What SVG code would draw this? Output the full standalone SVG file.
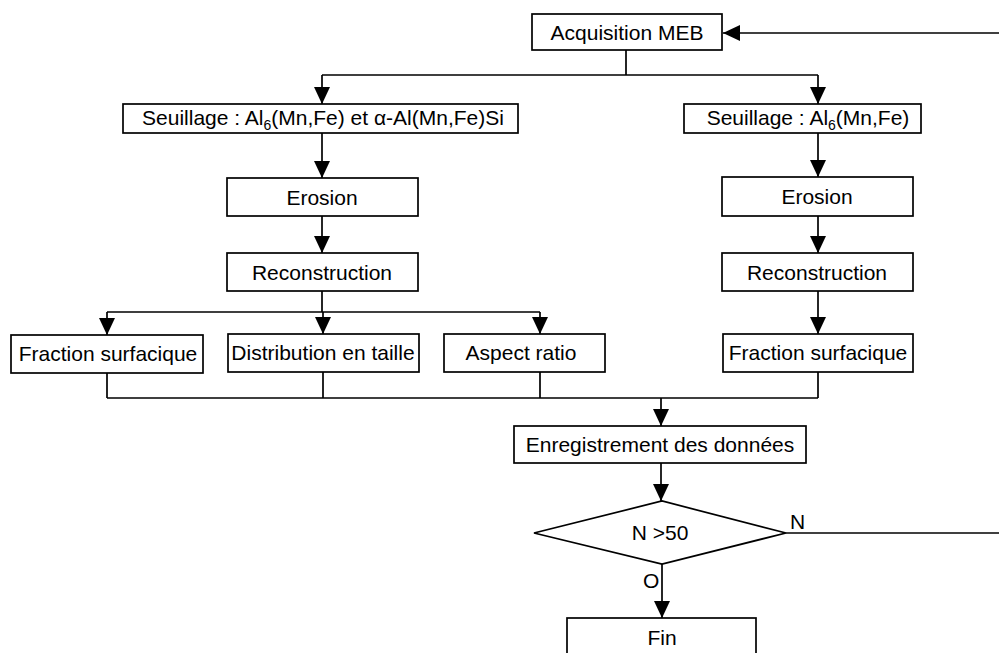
<svg xmlns="http://www.w3.org/2000/svg" width="999" height="653" viewBox="0 0 999 653">
<style>
.box{fill:#fff;stroke:#000;stroke-width:1.7}
.t{font-family:"Liberation Sans",Arial,sans-serif;font-size:21px;fill:#000;text-anchor:middle}
.l{font-family:"Liberation Sans",Arial,sans-serif;font-size:21px;fill:#000}
.c{fill:none;stroke:#000;stroke-width:1.7}
</style>
<defs>
<marker id="ah" markerUnits="userSpaceOnUse" markerWidth="17" markerHeight="16" refX="17" refY="8" orient="auto">
<path d="M0,0 L17,8 L0,16 z" fill="#000"/>
</marker>
</defs>
<rect width="999" height="653" fill="#fff"/>
<g id="connectors">
<path class="c" d="M999,33 H723" marker-end="url(#ah)"/>
<path class="c" d="M626,50 V75 M322,75 H818"/>
<path class="c" d="M322,75 V104" marker-end="url(#ah)"/>
<path class="c" d="M818,75 V104" marker-end="url(#ah)"/>
<path class="c" d="M322,133 V178" marker-end="url(#ah)"/>
<path class="c" d="M322,216 V253" marker-end="url(#ah)"/>
<path class="c" d="M322,291 V312 M107,312 H540"/>
<path class="c" d="M107,312 V335" marker-end="url(#ah)"/>
<path class="c" d="M323,312 V334" marker-end="url(#ah)"/>
<path class="c" d="M540,312 V334" marker-end="url(#ah)"/>
<path class="c" d="M818,133 V177" marker-end="url(#ah)"/>
<path class="c" d="M818,216 V253" marker-end="url(#ah)"/>
<path class="c" d="M818,291 V334" marker-end="url(#ah)"/>
<path class="c" d="M107,373 V398 M323,372 V398 M540,372 V398 M818,372 V398 M107,398 H818"/>
<path class="c" d="M661,398 V426" marker-end="url(#ah)"/>
<path class="c" d="M661,463 V501" marker-end="url(#ah)"/>
<path class="c" d="M662,564 V618" marker-end="url(#ah)"/>
<path class="c" d="M786,533 H999"/>
<text class="l" x="790" y="529">N</text>
<text class="l" x="643" y="588">O</text>
</g>
<g id="acq"><rect class="box" x="532" y="14" width="190" height="36"/><text class="t" x="627" y="40">Acquisition MEB</text></g>
<g id="seuilL"><rect class="box" x="123" y="104" width="395" height="29"/><text class="t" x="323" y="125">Seuillage : Al<tspan font-size="14" dy="5">6</tspan><tspan dy="-5">(Mn,Fe) et α-Al(Mn,Fe)Si</tspan></text></g>
<g id="seuilR"><rect class="box" x="684" y="104" width="237" height="29"/><text class="t" x="808" y="125">Seuillage : Al<tspan font-size="14" dy="5">6</tspan><tspan dy="-5">(Mn,Fe)</tspan></text></g>
<g id="erosionL"><rect class="box" x="227" y="178" width="191" height="38"/><text class="t" x="322" y="205">Erosion</text></g>
<g id="reconL"><rect class="box" x="227" y="253" width="191" height="38"/><text class="t" x="322" y="280">Reconstruction</text></g>
<g id="erosionR"><rect class="box" x="722" y="177" width="191" height="39"/><text class="t" x="817" y="204">Erosion</text></g>
<g id="reconR"><rect class="box" x="722" y="253" width="191" height="38"/><text class="t" x="817" y="280">Reconstruction</text></g>
<g id="fracL"><rect class="box" x="11" y="335" width="192" height="38"/><text class="t" x="108" y="361">Fraction surfacique</text></g>
<g id="dist"><rect class="box" x="228" y="334" width="191" height="38"/><text class="t" x="323" y="360">Distribution en taille</text></g>
<g id="aspect"><rect class="box" x="444" y="334" width="161" height="38"/><text class="t" x="521" y="360">Aspect ratio</text></g>
<g id="fracR"><rect class="box" x="723" y="334" width="190" height="38"/><text class="t" x="818" y="360">Fraction surfacique</text></g>
<g id="enreg"><rect class="box" x="514" y="426" width="292" height="37"/><text class="t" x="660" y="452">Enregistrement des données</text></g>
<g id="decision"><polygon class="box" points="534,533 662,501 786,533 662,564"/><text class="t" x="660" y="540">N &gt;50</text></g>
<g id="fin"><rect class="box" x="567" y="618" width="189" height="45"/><text class="t" x="662" y="645">Fin</text></g>
</svg>
